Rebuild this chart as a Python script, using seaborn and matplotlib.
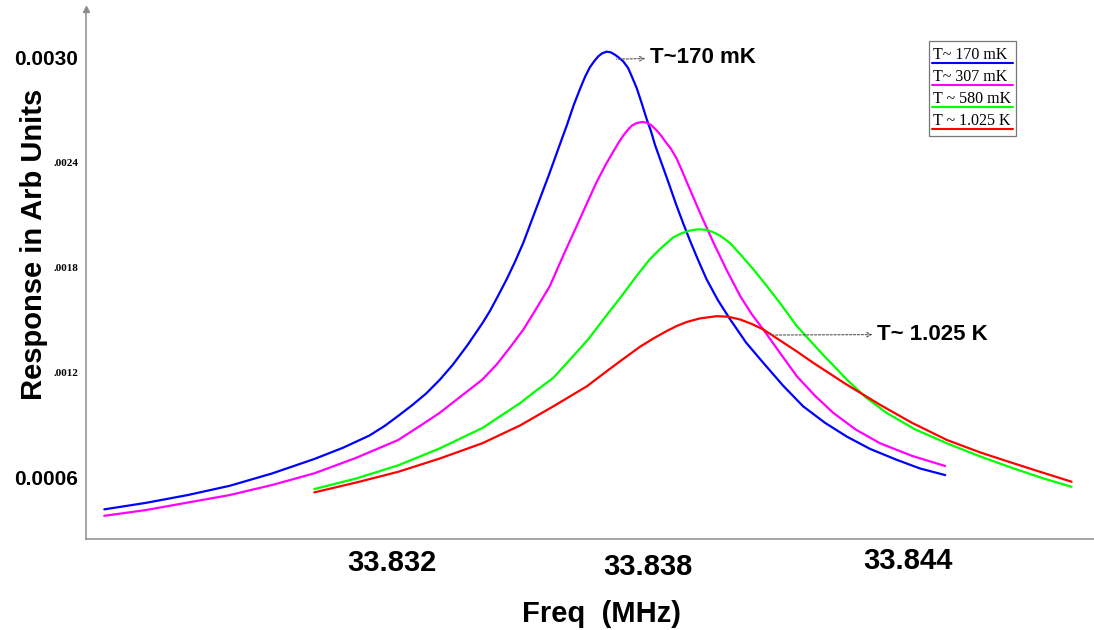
import matplotlib
matplotlib.use("Agg")
import matplotlib.pyplot as plt
import matplotlib.transforms as mtransforms
from matplotlib.lines import Line2D
from matplotlib.patches import Rectangle
import pandas as pd
import seaborn as sns

# Resonance response (arb. units) versus drive frequency (MHz) at four temperatures
freq_170mK = [33.82500, 33.82599, 33.82699, 33.82799, 33.82899, 33.83000, 33.83068,
              33.83131, 33.83168, 33.83200, 33.83233, 33.83266, 33.83299, 33.83330,
              33.83364, 33.83400, 33.83418, 33.83437, 33.83458, 33.83478, 33.83498,
              33.83517, 33.83537, 33.83559, 33.83581, 33.83601, 33.83618, 33.83633,
              33.83645, 33.83656, 33.83666, 33.83676, 33.83685, 33.83696, 33.83706,
              33.83716, 33.83726, 33.83736, 33.83747, 33.83756, 33.83768, 33.83779,
              33.83791, 33.83802, 33.83811, 33.83823, 33.83835, 33.83847, 33.83861,
              33.83878, 33.83895, 33.83914, 33.83934, 33.83961, 33.83990, 33.84028,
              33.84069, 33.84116, 33.84164, 33.84216, 33.84268, 33.84323, 33.84387,
              33.84442, 33.84502]
resp_170mK = [0.000415, 0.000452, 0.000497, 0.000550, 0.000620, 0.000703, 0.000767,
              0.000837, 0.000893, 0.000950, 0.001011, 0.001077, 0.001157, 0.001243,
              0.001352, 0.001479, 0.001549, 0.001634, 0.001731, 0.001832, 0.001942,
              0.002064, 0.002191, 0.002331, 0.002478, 0.002610, 0.002730, 0.002822,
              0.002891, 0.002943, 0.002977, 0.003006, 0.003023, 0.003033, 0.003029,
              0.003015, 0.002997, 0.002976, 0.002940, 0.002891, 0.002822, 0.002742,
              0.002650, 0.002575, 0.002501, 0.002420, 0.002340, 0.002259, 0.002162,
              0.002053, 0.001949, 0.001840, 0.001731, 0.001611, 0.001502, 0.001369,
              0.001253, 0.001123, 0.001004, 0.000910, 0.000831, 0.000761, 0.000698,
              0.000649, 0.000611]

freq_307mK = [33.82500, 33.82599, 33.82699, 33.82799, 33.82899, 33.83000, 33.83099,
              33.83200, 33.83252, 33.83298, 33.83400, 33.83434, 33.83466, 33.83498,
              33.83529, 33.83561, 33.83592, 33.83625, 33.83649, 33.83672, 33.83695,
              33.83716, 33.83726, 33.83736, 33.83747, 33.83756, 33.83767, 33.83780,
              33.83791, 33.83802, 33.83815, 33.83826, 33.83837, 33.83849, 33.83863,
              33.83874, 33.83887, 33.83918, 33.83950, 33.83982, 33.84014, 33.84041,
              33.84069, 33.84109, 33.84149, 33.84192, 33.84236, 33.84290, 33.84347,
              33.84423, 33.84502]
resp_307mK = [0.000378, 0.000411, 0.000454, 0.000497, 0.000554, 0.000621, 0.000709,
              0.000812, 0.000893, 0.000966, 0.001157, 0.001243, 0.001341, 0.001444,
              0.001565, 0.001693, 0.001863, 0.002037, 0.002165, 0.002286, 0.002392,
              0.002478, 0.002518, 0.002554, 0.002587, 0.002610, 0.002624, 0.002631,
              0.002627, 0.002613, 0.002583, 0.002552, 0.002515, 0.002478, 0.002420,
              0.002360, 0.002286, 0.002113, 0.001942, 0.001783, 0.001635, 0.001533,
              0.001444, 0.001309, 0.001176, 0.001065, 0.000966, 0.000870, 0.000793,
              0.000721, 0.000663]

freq_580mK = [33.83000, 33.83099, 33.83200, 33.83299, 33.83400, 33.83490, 33.83528,
              33.83569, 33.83609, 33.83652, 33.83692, 33.83732, 33.83766, 33.83799,
              33.83828, 33.83855, 33.83875, 33.83895, 33.83914, 33.83933, 33.83949,
              33.83966, 33.83990, 33.84016, 33.84045, 33.84075, 33.84111, 33.84149,
              33.84204, 33.84268, 33.84314, 33.84363, 33.84430, 33.84506, 33.84585,
              33.84664, 33.84733, 33.84803]
resp_580mK = [0.000531, 0.000591, 0.000667, 0.000764, 0.000880, 0.001023, 0.001094,
              0.001167, 0.001272, 0.001387, 0.001513, 0.001636, 0.001746, 0.001846,
              0.001915, 0.001971, 0.001995, 0.002010, 0.002017, 0.002014, 0.002001,
              0.001981, 0.001938, 0.001869, 0.001789, 0.001700, 0.001588, 0.001463,
              0.001318, 0.001157, 0.001054, 0.000966, 0.000873, 0.000793, 0.000718,
              0.000650, 0.000594, 0.000544]

freq_1025mK = [33.83000, 33.83099, 33.83200, 33.83299, 33.83400, 33.83490, 33.83569,
               33.83649, 33.83700, 33.83728, 33.83776, 33.83807, 33.83839, 33.83863,
               33.83887, 33.83918, 33.83958, 33.83985, 33.84014, 33.84041, 33.84069,
               33.84109, 33.84149, 33.84188, 33.84266, 33.84347, 33.84423, 33.84506,
               33.84585, 33.84664, 33.84733, 33.84803]
resp_1025mK = [0.000512, 0.000568, 0.000630, 0.000706, 0.000793, 0.000895, 0.001004,
               0.001119, 0.001212, 0.001262, 0.001346, 0.001392, 0.001435, 0.001464,
               0.001487, 0.001507, 0.001520, 0.001517, 0.001501, 0.001476, 0.001444,
               0.001381, 0.001318, 0.001253, 0.001131, 0.001013, 0.000910, 0.000812,
               0.000741, 0.000679, 0.000626, 0.000573]

series_labels = ["T~ 170 mK", "T~ 307 mK", "T ~ 580 mK", "T ~ 1.025 K"]
series_colors = ["#0000ff", "#ff00ff", "#00ff00", "#ff0000"]

x_ticks = [33.826, 33.828, 33.830, 33.832, 33.834, 33.836,
           33.838, 33.840, 33.842, 33.844, 33.846, 33.848]
x_tick_labels = ["", "", "", "33.832", "", "", "33.838", "", "", "33.844", "", ""]
y_ticks = [0.0006, 0.0012, 0.0018, 0.0024, 0.0030]
y_tick_labels = ["0.0006", ".0012", ".0018", ".0024", "0.0030"]

peak_note = "T~170 mK"
tail_note = "T~ 1.025 K"

sns.set_style("white")
plt.rcParams["font.family"] = ["Liberation Sans", "DejaVu Sans"]
for key in ("text.color", "axes.labelcolor", "xtick.color", "ytick.color"):
    plt.rcParams[key] = "black"

frames = []
for lab, f, r in zip(series_labels,
                     [freq_170mK, freq_307mK, freq_580mK, freq_1025mK],
                     [resp_170mK, resp_307mK, resp_580mK, resp_1025mK]):
    frames.append(pd.DataFrame({"freq": f, "resp": r, "series": lab}))
df = pd.concat(frames, ignore_index=True)

W, H = 1094, 630
fig = plt.figure(figsize=(W / 100, H / 100), dpi=100)
ax = fig.add_axes([85.7 / W, 1 - 539 / H, (W - 85.7) / W, 530 / H])

sns.lineplot(data=df, x="freq", y="resp", hue="series", hue_order=series_labels,
             palette=dict(zip(series_labels, series_colors)), estimator=None,
             sort=False, legend=False, linewidth=1.6, solid_joinstyle="round",
             ax=ax)

ax.set_xlim(33.824557, 33.848564)
ax.set_ylim(0.0002454, 0.003277)

axis_grey = "#8c8c8c"
for side in ("top", "right"):
    ax.spines[side].set_visible(False)
for side in ("left", "bottom"):
    ax.spines[side].set_color(axis_grey)
    ax.spines[side].set_linewidth(1.1)
# arrow tip at the top of the y axis
ax.plot([0], [1], marker="^", ms=5, color=axis_grey, transform=ax.transAxes,
        clip_on=False)

ax.set_xticks(x_ticks)
ax.set_xticklabels(x_tick_labels)
ax.set_yticks(y_ticks)
ax.set_yticklabels(y_tick_labels)
ax.tick_params(axis="x", direction="inout", length=6, width=0.8, color=axis_grey,
               labelcolor="black", pad=4, labelsize=21)
ax.tick_params(axis="y", direction="inout", length=5, width=0.8, color=axis_grey,
               labelcolor="black", pad=3)

for lab in ax.get_xticklabels():
    lab.set_fontweight("bold")
# small hand-placed shifts of the frequency labels (pixels)
x_label_shift = {3: (-6, 0), 6: (-2, -4.3), 9: (6, 2)}
for i, (dx, dy) in x_label_shift.items():
    lab = ax.get_xticklabels()[i]
    lab.set_transform(lab.get_transform() +
                      mtransforms.ScaledTranslation(dx / 100, dy / 100, fig.dpi_scale_trans))

for i, lab in enumerate(ax.get_yticklabels()):
    if y_tick_labels[i].startswith("0."):
        lab.set_fontfamily(["Liberation Sans", "DejaVu Sans"])
        lab.set_fontsize(15)
    else:
        lab.set_fontfamily(["Liberation Serif", "DejaVu Serif"])
        lab.set_fontsize(8)
    lab.set_fontweight("bold")

ax.set_xlabel("Freq  (MHz)", fontsize=21, fontweight="bold", va="baseline")
ax.xaxis.set_label_coords((602 - 85.7) / (W - 85.7), (539 - 622) / 530)
ax.set_ylabel("Response in Arb Units", fontsize=21, fontweight="bold", va="center")
ax.yaxis.set_label_coords((33.5 - 85.7) / (W - 85.7), (539 - 244) / 530)

arrow_style = dict(arrowstyle="<-", linestyle=(0, (2, 1.5)), color="#555555",
                   lw=0.8, shrinkA=1, shrinkB=1, mutation_scale=8)
ax.annotate(peak_note, xy=(33.83716, 0.00299), xytext=(33.83799, 0.0030),
            fontsize=16, fontweight="bold", ha="left", va="center",
            arrowprops=arrow_style)
ax.annotate(tail_note, xy=(33.84085, 0.001412), xytext=(33.84340, 0.001416),
            fontsize=16, fontweight="bold", ha="left", va="center",
            arrowprops=arrow_style)

# boxed key: each label sits above a short stroke of its curve colour
box_l, box_r, box_t, box_b = 929.3, 1016, 40.7, 136
fig.add_artist(Rectangle((box_l / W, 1 - box_b / H), (box_r - box_l) / W,
                         (box_b - box_t) / H, transform=fig.transFigure,
                         fill=False, edgecolor="#777777", lw=0.9))
for i, (lab, col) in enumerate(zip(series_labels, series_colors)):
    y_line = 62.7 + 22.2 * i
    fig.add_artist(Line2D([931.7 / W, 1013.3 / W], [1 - y_line / H] * 2,
                          transform=fig.transFigure, color=col, lw=1.5))
    fig.text(932.7 / W, 1 - (y_line - 4) / H, lab, fontsize=11.5,
             family=["Liberation Serif", "DejaVu Serif"], va="baseline", ha="left")

fig.savefig("out.png", dpi=100)
